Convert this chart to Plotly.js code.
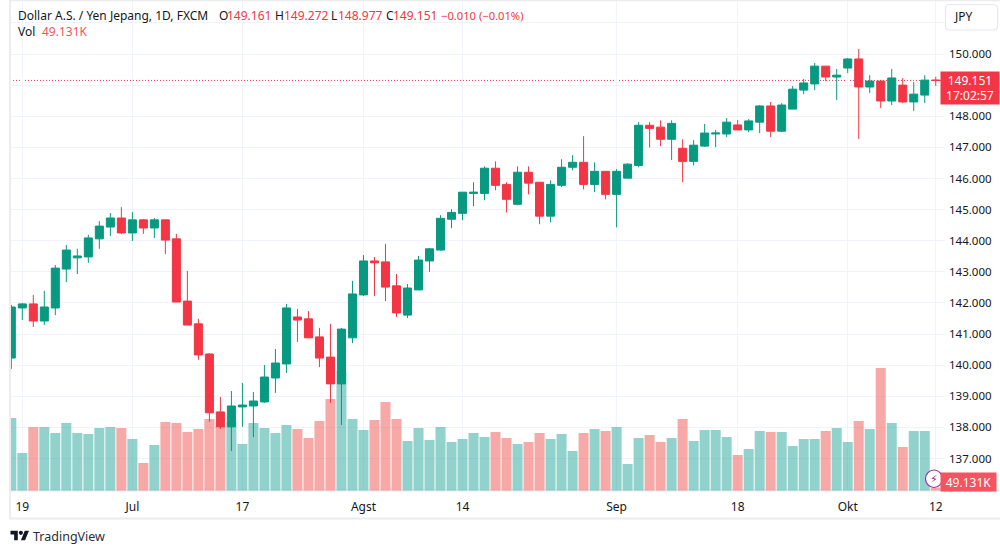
<!DOCTYPE html>
<html>
<head>
<meta charset="utf-8">
<script src="https://cdn.plot.ly/plotly-3.0.1.min.js"></script>
<style>
html, body { margin: 0; padding: 0; background: #fff; overflow: hidden; }
#chart { width: 1000px; height: 551px; }
</style>
</head>
<body>
<div id="chart"></div>
<script>
var opens = [140.23,141.84,141.97,141.42,141.84,143.09,143.45,143.48,144.06,144.44,
    144.73,144.25,144.67,144.41,144.67,144.06,142.06,141.33,140.36,138.50,
    138.02,138.66,138.69,138.82,139.59,140.04,141.55,141.49,140.91,140.26,
    139.40,140.88,142.26,143.35,143.32,142.55,141.61,142.42,143.35,143.70,
    144.69,144.88,145.52,145.52,146.33,145.81,145.17,146.20,145.88,144.79,
    145.78,146.36,146.52,145.81,146.23,145.49,146.01,146.42,147.71,147.65,
    147.26,146.97,146.55,147.04,147.43,147.43,147.72,147.56,147.81,148.33,
    147.52,148.23,148.84,149.04,149.61,149.26,149.55,149.84,148.94,149.13,
    148.49,149.00,148.46,148.68,149.161];
var highs = [141.94,142.00,142.26,142.39,143.22,143.86,143.74,144.19,144.63,144.89,
    145.08,144.92,144.70,144.73,144.67,144.22,143.03,141.49,140.39,138.98,
    139.17,139.43,139.14,140.01,140.52,141.97,141.81,141.74,141.20,141.33,
    141.20,142.71,143.54,143.48,143.90,142.93,142.61,143.51,143.77,144.82,
    145.01,145.56,145.88,146.39,146.55,145.88,146.39,146.39,145.88,145.94,
    146.62,146.75,147.36,146.52,146.23,146.30,146.49,147.81,147.81,147.87,
    147.87,147.26,147.23,147.75,147.56,147.94,147.88,147.91,148.36,148.46,
    148.42,148.97,149.20,149.71,149.61,149.52,149.87,150.16,149.32,149.16,
    149.52,149.23,149.10,149.32,149.272];
var lows = [139.88,141.45,141.23,141.29,141.61,142.67,142.93,143.29,143.74,144.15,
    144.22,143.99,144.22,144.09,143.57,142.03,141.29,140.17,138.18,137.95,
    137.24,138.02,137.69,138.79,139.11,139.75,140.75,140.88,139.94,138.79,
    138.08,140.71,142.22,142.22,142.06,141.55,141.52,142.42,143.00,143.68,
    144.40,144.66,145.11,145.30,145.62,144.91,145.14,145.49,144.53,144.59,
    145.72,146.26,145.65,145.56,145.33,144.43,146.01,146.36,147.00,147.04,
    146.59,145.88,146.42,147.01,147.01,147.33,147.56,147.49,147.46,147.33,
    147.49,148.23,148.71,148.84,149.13,148.52,149.39,147.27,148.75,148.26,
    148.36,148.42,148.17,148.42,148.977];
var closes = [141.87,141.97,141.42,141.87,143.12,143.70,143.51,144.09,144.47,144.73,
    144.25,144.67,144.41,144.67,144.02,142.03,141.29,140.33,138.47,138.02,
    138.69,138.72,138.85,139.62,140.07,141.84,141.45,140.88,140.23,139.40,
    141.16,142.29,143.35,143.29,142.51,141.68,142.48,143.38,143.74,144.72,
    144.91,145.56,145.56,146.33,145.78,145.33,146.20,145.85,144.79,145.81,
    146.36,146.52,145.81,146.23,145.49,146.23,146.46,147.71,147.61,147.26,
    147.77,146.55,147.07,147.46,147.46,147.81,147.56,147.85,148.33,147.52,
    148.36,148.87,149.07,149.61,149.26,149.32,149.84,148.94,149.13,148.49,
    149.23,148.46,148.71,149.16,149.151];
// volume in thousands
var volumes = [1022,532,896,896,812,952,812,798,882,896,
    882,728,392,644,966,952,826,868,1008,910,
    966,658,952,882,812,924,868,742,980,1288,
    1680,1008,854,994,1246,1008,700,882,714,896,
    686,728,812,756,826,742,658,686,812,728,
    798,560,812,868,840,896,378,742,784,686,
    742,1008,700,854,854,756,504,588,840,826,
    826,630,728,728,840,882,686,980,868,1722,
    952,616,840,840,49.131];

var timeTicks = [1, 11, 21, 32, 41, 55, 66, 76, 84];
var timeLabels = ['19', 'Jul', '17', 'Agst', '14', 'Sep', '18', 'Okt', '12'];
var priceTicks = [136,137,138,139,140,141,142,143,144,145,146,147,148,149,150,151];
var priceLabels = ['','137.000','138.000','139.000','140.000','141.000','142.000','143.000',
    '144.000','145.000','146.000','147.000','148.000','','150.000',''];

var GREEN = '#089981', RED = '#F23645';
var FONT = '"Noto Sans", sans-serif';
var TEXT = '#131722';

// plot area in page pixels
var L = 10, R = 945, T = 1, B = 491;
function px(x) { return (x - L) / (R - L); }
function py(y) { return (B - y) / (B - T); }

var idx = closes.map(function (c, i) { return i; });
var volColors = closes.map(function (c, i) {
    return c >= opens[i] ? 'rgba(38,166,154,0.5)' : 'rgba(239,83,80,0.5)';
});

var volTrace = {
    type: 'bar', x: idx, y: volumes, xaxis: 'x', yaxis: 'y',
    marker: { color: volColors, line: { width: 0 } },
    hoverinfo: 'skip'
};
var candleTrace = {
    type: 'candlestick', x: idx, open: opens, high: highs, low: lows, close: closes,
    xaxis: 'x', yaxis: 'y2', whiskerwidth: 0,
    increasing: { line: { color: GREEN, width: 1 }, fillcolor: GREEN },
    decreasing: { line: { color: RED, width: 1 }, fillcolor: RED },
    hoverinfo: 'skip'
};

function label(x, y, text, color, size) {
    return {
        xref: 'paper', yref: 'paper', x: px(x - 1), y: py(y), text: text, showarrow: false,
        xanchor: 'left', yanchor: 'middle', borderpad: 0,
        font: { family: FONT, size: size || 12, color: color || TEXT }
    };
}
function tag(x, y, w, h, bg, text) {
    return {
        xref: 'paper', yref: 'paper', x: px(x), y: py(y), xanchor: 'center', yanchor: 'middle',
        showarrow: false, width: w, height: h, bgcolor: bg, borderpad: 0, align: 'center',
        text: text, font: { family: FONT, size: 12, color: '#fff' }
    };
}
var annotations = [
    label(18, 15, 'Dollar A.S. / Yen Jepang, 1D, FXCM'),
    label(218.5, 15, 'O'), label(227, 15, '149.161', RED),
    label(275, 15, 'H'), label(283.5, 15, '149.272', RED),
    label(331, 15, 'L'), label(338, 15, '148.977', RED),
    label(385.5, 15, 'C'), label(393, 15, '149.151', RED),
    label(440.5, 15, '\u22120.010 (\u22120.01%)', RED, 11.2),
    label(18, 31.5, 'Vol'), label(42, 31.5, '49.131K', '#F7525F'),
    label(954, 16.5, 'JPY', TEXT, 12),
    label(33, 536, 'TradingView', '#2a2e39', 12.5),
    { xref: 'paper', yref: 'paper', x: px(933.5), y: py(479), xanchor: 'center', yanchor: 'middle', showarrow: false,
      text: '\u26A1', font: { family: 'DejaVu Sans', size: 11, color: '#9C27B0' } },
    tag(970, 88, 58, 32, RED, '149.151<br>17:02:57'),
    tag(968.5, 482, 55, 18, '#F7525F', '49.131K')
];

// TradingView mark, scaled from its 36x28 drawing
function logo(d) {
    var s = 0.52, ox = 10.5, oy = 528.7;
    return d.replace(/(-?[\d.]+) (-?[\d.]+)/g, function (m, a, b) {
        return px(ox + a * s) + ' ' + py(oy + b * s);
    });
}
function pxLine(x0, y0, x1, y1, color, width) {
    return { type: 'line', xref: 'paper', yref: 'paper', x0: px(x0), y0: py(y0), x1: px(x1), y1: py(y1),
        line: { color: color, width: width }, layer: 'above' };
}
// rounded box for the currency button
function roundBox(x0, y0, x1, y1, r) {
    function p(x, y) { return px(x) + ' ' + py(y); }
    return 'M ' + p(x0 + r, y0) + ' L ' + p(x1 - r, y0) + ' Q ' + p(x1, y0) + ' ' + p(x1, y0 + r) +
        ' L ' + p(x1, y1 - r) + ' Q ' + p(x1, y1) + ' ' + p(x1 - r, y1) +
        ' L ' + p(x0 + r, y1) + ' Q ' + p(x0, y1) + ' ' + p(x0, y1 - r) +
        ' L ' + p(x0, y0 + r) + ' Q ' + p(x0, y0) + ' ' + p(x0 + r, y0) + ' Z';
}
var shapes = [
    { type: 'line', xref: 'paper', yref: 'y2', x0: 0, x1: 1, y0: closes[closes.length - 1], y1: closes[closes.length - 1],
      line: { color: RED, width: 1, dash: '1px,2px' }, layer: 'below' },
    pxLine(10, 491, 1000, 491, '#e0e3eb', 1),
    pxLine(10, 0, 10, 519, '#ebebf0', 2),
    pxLine(10, 0.5, 1000, 0.5, '#ebebf0', 1.5),
    pxLine(10, 518.5, 1000, 518.5, '#ebebf0', 2),
    { type: 'path', xref: 'paper', yref: 'paper', line: { color: '#e6e8ef', width: 1.2 }, fillcolor: '#fff', layer: 'above',
      path: roundBox(945.5, 4.5, 997.5, 30, 4) },
    { type: 'circle', xref: 'paper', yref: 'paper', x0: px(925.5), x1: px(942.5), y0: py(470), y1: py(487.5),
      line: { color: '#9C27B0', width: 1.2 }, fillcolor: '#fff', layer: 'above' },
    { type: 'path', xref: 'paper', yref: 'paper', fillcolor: '#131722', line: { width: 0 }, layer: 'above',
      path: logo('M 14 22 L 7 22 L 7 11 L 0 11 L 0 4 L 14 4 Z M 28 22 L 20 22 L 27.5 4 L 35.5 4 Z') },
    { type: 'circle', xref: 'paper', yref: 'paper', fillcolor: '#131722', line: { width: 0 }, layer: 'above',
      x0: px(10.5 + 16 * 0.52), x1: px(10.5 + 24 * 0.52), y0: py(528.7 + 4 * 0.52), y1: py(528.7 + 12 * 0.52) }
];

var layout = {
    width: 1000, height: 551,
    margin: { l: L, r: 1000 - R, t: T, b: 551 - B, pad: 0 },
    paper_bgcolor: '#fff', plot_bgcolor: '#fff',
    showlegend: false, bargap: 0.09, boxgap: 0.27, boxgroupgap: 0,
    font: { family: FONT, size: 12, color: TEXT },
    xaxis: {
        range: [-0.118, 84.84], tickmode: 'array', tickvals: timeTicks, ticktext: timeLabels,
        showgrid: true, gridcolor: '#f0f3fa', gridwidth: 1, zeroline: false, showline: false,
        ticks: '', ticklabelstandoff: 7, rangeslider: { visible: false },
        tickfont: { family: FONT, size: 12, color: TEXT }
    },
    yaxis: { range: [0, 6860], visible: false, showgrid: false, zeroline: false, fixedrange: true },
    yaxis2: {
        overlaying: 'y', side: 'right', range: [135.958, 151.703],
        tickmode: 'array', tickvals: priceTicks, ticktext: priceLabels,
        showgrid: true, gridcolor: '#f0f3fa', gridwidth: 1, zeroline: false, showline: false,
        ticks: '', ticklabelstandoff: 3,
        tickfont: { family: FONT, size: 11.5, color: TEXT }
    },
    shapes: shapes,
    annotations: annotations
};

Plotly.newPlot('chart', [volTrace, candleTrace], layout, { displayModeBar: false, staticPlot: true });
</script>
</body>
</html>
